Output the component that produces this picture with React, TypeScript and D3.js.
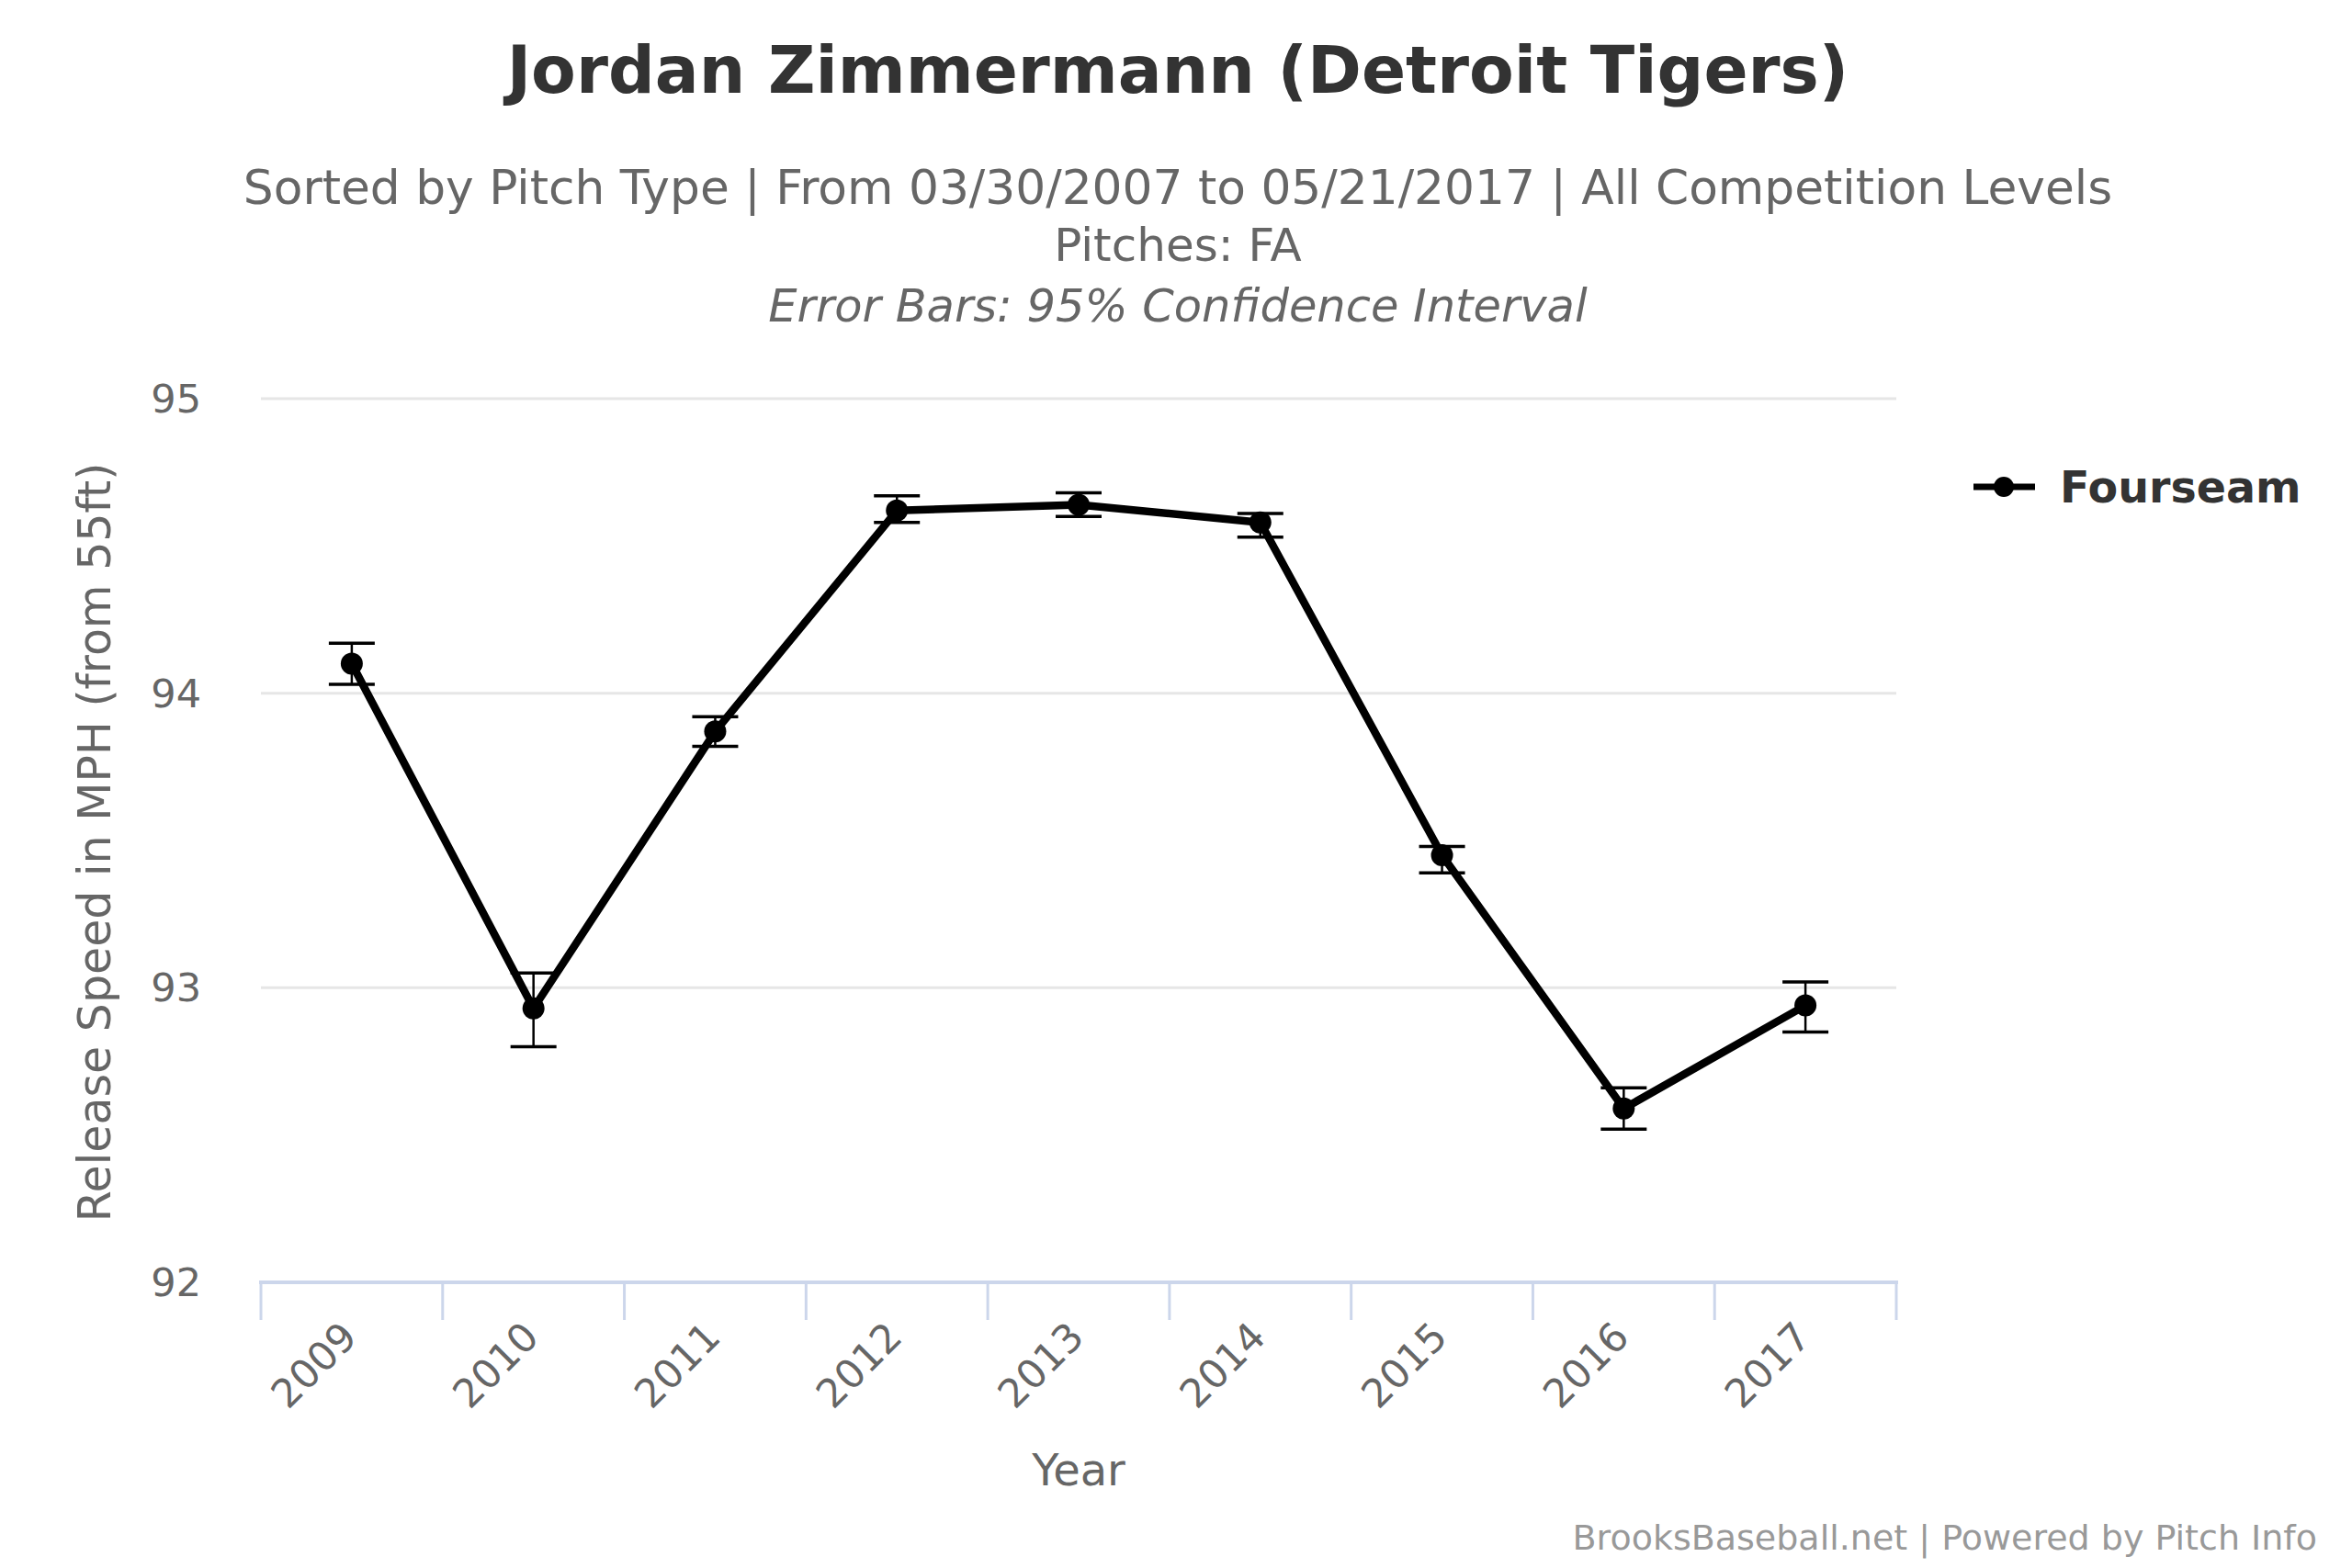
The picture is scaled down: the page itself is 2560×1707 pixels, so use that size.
import { useEffect, useRef } from 'react';
import * as d3 from 'd3';

const years = ['2009', '2010', '2011', '2012', '2013', '2014', '2015', '2016', '2017'];
const speed = [94.1, 92.93, 93.87, 94.62, 94.64, 94.58, 93.45, 92.59, 92.94];
const lower = [94.03, 92.8, 93.82, 94.58, 94.6, 94.53, 93.39, 92.52, 92.85];
const upper = [94.17, 93.05, 93.92, 94.67, 94.68, 94.61, 93.48, 92.66, 93.02];
const yTicks = [92, 93, 94, 95];

const WIDTH = 2560;
const HEIGHT = 1707;
const FONT = '"DejaVu Sans", Verdana, sans-serif';

export default function App() {
  const ref = useRef<SVGSVGElement>(null);

  useEffect(() => {
    if (!ref.current) return;
    const svg = d3.select(ref.current);
    svg.selectAll('*').remove();

    const plot = { left: 284, right: 2064, top: 434, bottom: 1396 };

    const x = d3.scaleBand<string>()
      .domain(years)
      .range([plot.left, plot.right])
      .padding(0);

    const y = d3.scaleLinear()
      .domain([92, 95])
      .range([plot.bottom, plot.top]);

    const cx = (yr: string) => (x(yr) || 0) + x.bandwidth() / 2;

    // Titles
    svg.append('text')
      .attr('x', 1282)
      .attr('y', 101)
      .attr('text-anchor', 'middle')
      .attr('font-family', FONT)
      .attr('font-weight', 'bold')
      .attr('font-size', 71)
      .attr('fill', '#333333')
      .text('Jordan Zimmermann (Detroit Tigers)');

    const subs = [
      { text: 'Sorted by Pitch Type | From 03/30/2007 to 05/21/2017 | All Competition Levels', y: 222, size: 51.8, italic: false },
      { text: 'Pitches: FA', y: 284, size: 50, italic: false },
      { text: 'Error Bars: 95% Confidence Interval', y: 350, size: 49.5, italic: true },
    ];
    svg.selectAll('.subtitle')
      .data(subs)
      .enter()
      .append('text')
      .attr('class', 'subtitle')
      .attr('x', 1282)
      .attr('y', d => d.y)
      .attr('text-anchor', 'middle')
      .attr('font-family', FONT)
      .attr('font-size', d => d.size)
      .attr('font-style', d => (d.italic ? 'italic' : 'normal'))
      .attr('fill', '#666666')
      .text(d => d.text);

    // Grid lines
    svg.append('g')
      .selectAll('line')
      .data(yTicks.slice(1))
      .enter()
      .append('line')
      .attr('x1', plot.left)
      .attr('x2', plot.right)
      .attr('y1', d => y(d))
      .attr('y2', d => y(d))
      .attr('stroke', '#e6e6e6')
      .attr('stroke-width', 3);

    // Y tick labels
    svg.append('g')
      .selectAll('text')
      .data(yTicks)
      .enter()
      .append('text')
      .attr('x', 219)
      .attr('y', d => y(d) + 15)
      .attr('text-anchor', 'end')
      .attr('font-family', FONT)
      .attr('font-size', 43)
      .attr('fill', '#666666')
      .text(d => String(d));

    // Y axis title
    svg.append('text')
      .attr('transform', `translate(120,${(plot.top + plot.bottom) / 2 + 2}) rotate(-90)`)
      .attr('text-anchor', 'middle')
      .attr('font-family', FONT)
      .attr('font-size', 49)
      .attr('fill', '#666666')
      .text('Release Speed in MPH (from 55ft)');

    // X axis line and ticks (ticks on category boundaries)
    const boundaries = years.map(yr => x(yr) || 0).concat([plot.right]);
    svg.append('line')
      .attr('x1', plot.left - 2)
      .attr('x2', plot.right + 2)
      .attr('y1', plot.bottom)
      .attr('y2', plot.bottom)
      .attr('stroke', '#ccd6eb')
      .attr('stroke-width', 4);

    svg.append('g')
      .selectAll('line')
      .data(boundaries)
      .enter()
      .append('line')
      .attr('x1', d => d)
      .attr('x2', d => d)
      .attr('y1', plot.bottom)
      .attr('y2', plot.bottom + 41)
      .attr('stroke', '#ccd6eb')
      .attr('stroke-width', 3);

    // X tick labels
    svg.append('g')
      .selectAll('text')
      .data(years)
      .enter()
      .append('text')
      .attr('transform', d => `translate(${cx(d) + 8},${plot.bottom + 62}) rotate(-45)`)
      .attr('text-anchor', 'end')
      .attr('font-family', FONT)
      .attr('font-size', 43)
      .attr('fill', '#666666')
      .text(d => d);

    // X axis title
    svg.append('text')
      .attr('x', (plot.left + plot.right) / 2)
      .attr('y', 1617)
      .attr('text-anchor', 'middle')
      .attr('font-family', FONT)
      .attr('font-size', 48)
      .attr('fill', '#666666')
      .text('Year');

    // Series line
    const points = years.map((yr, i) => ({ yr, v: speed[i], lo: lower[i], hi: upper[i] }));
    const line = d3.line<{ yr: string; v: number }>()
      .x(d => cx(d.yr))
      .y(d => y(d.v));

    svg.append('path')
      .datum(points)
      .attr('d', line)
      .attr('fill', 'none')
      .attr('stroke', '#000000')
      .attr('stroke-width', 8.5)
      .attr('stroke-linejoin', 'round');

    // Error bars
    const eb = svg.append('g').attr('stroke', '#000000');
    eb.selectAll('.stem')
      .data(points)
      .enter()
      .append('line')
      .attr('x1', d => cx(d.yr))
      .attr('x2', d => cx(d.yr))
      .attr('y1', d => y(d.hi))
      .attr('y2', d => y(d.lo))
      .attr('stroke-width', 2.5);
    eb.selectAll('.cap-hi')
      .data(points)
      .enter()
      .append('line')
      .attr('x1', d => cx(d.yr) - 25)
      .attr('x2', d => cx(d.yr) + 25)
      .attr('y1', d => y(d.hi))
      .attr('y2', d => y(d.hi))
      .attr('stroke-width', 3.5);
    eb.selectAll('.cap-lo')
      .data(points)
      .enter()
      .append('line')
      .attr('x1', d => cx(d.yr) - 25)
      .attr('x2', d => cx(d.yr) + 25)
      .attr('y1', d => y(d.lo))
      .attr('y2', d => y(d.lo))
      .attr('stroke-width', 3.5);

    // Markers
    svg.append('g')
      .selectAll('circle')
      .data(points)
      .enter()
      .append('circle')
      .attr('cx', d => cx(d.yr))
      .attr('cy', d => y(d.v))
      .attr('r', 12)
      .attr('fill', '#000000');

    // Legend
    const legend = svg.append('g');
    legend.append('line')
      .attr('x1', 2148)
      .attr('x2', 2215)
      .attr('y1', 530)
      .attr('y2', 530)
      .attr('stroke', '#000000')
      .attr('stroke-width', 7);
    legend.append('circle')
      .attr('cx', 2181)
      .attr('cy', 530)
      .attr('r', 11)
      .attr('fill', '#000000');
    legend.append('text')
      .attr('x', 2242)
      .attr('y', 547)
      .attr('font-family', FONT)
      .attr('font-weight', 'bold')
      .attr('font-size', 47.5)
      .attr('fill', '#333333')
      .text('Fourseam');

    // Credits
    svg.append('text')
      .attr('x', 2522)
      .attr('y', 1687)
      .attr('text-anchor', 'end')
      .attr('font-family', FONT)
      .attr('font-size', 38)
      .attr('fill', '#999999')
      .text('BrooksBaseball.net | Powered by Pitch Info');
  }, []);

  return (
    <svg
      ref={ref}
      width={WIDTH}
      height={HEIGHT}
      style={{ position: 'absolute', left: 0, top: 0, background: '#ffffff' }}
    />
  );
}
